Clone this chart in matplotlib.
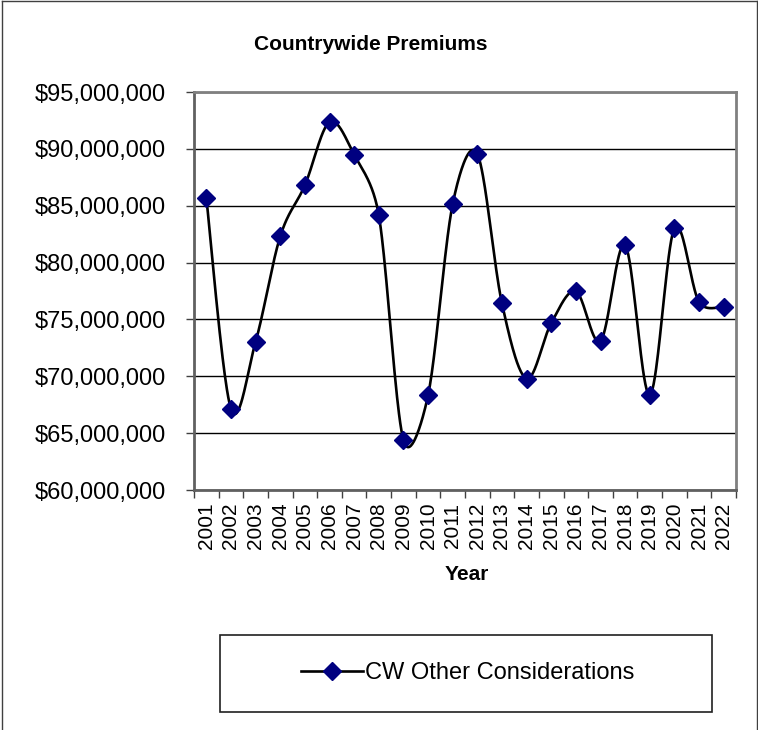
import numpy as np
import matplotlib
matplotlib.use('Agg')
import matplotlib.pyplot as plt
from matplotlib.ticker import FuncFormatter, FixedLocator
from matplotlib.patches import Rectangle
from matplotlib.lines import Line2D

plt.rcParams['font.family'] = ['Liberation Sans', 'DejaVu Sans']

years = ['2001', '2002', '2003', '2004', '2005', '2006', '2007', '2008', '2009', '2010', '2011',
         '2012', '2013', '2014', '2015', '2016', '2017', '2018', '2019', '2020', '2021', '2022']
premiums = [85.68, 67.15, 73.03, 82.30, 86.80, 92.35, 89.50, 84.18, 64.40, 68.32, 85.15,
            89.56, 76.41, 69.80, 74.68, 77.47, 73.09, 81.53, 68.35, 83.03, 76.53, 76.10]
premiums = [v * 1e6 for v in premiums]
series_name = 'CW Other Considerations'


def smooth_curve(x, y, sx=24.6, sy=11.37e-6, steps=40):
    # Excel-like smoothing (Catmull-Rom Bezier, control arm capped at half the segment)
    p = np.column_stack([np.asarray(x) * sx, np.asarray(y) * sy]).astype(float)
    ext = np.vstack([p[0], p, p[-1]])
    t = np.linspace(0, 1, steps)[:, None]
    out = []
    for i in range(len(p) - 1):
        p0, p3 = ext[i + 1], ext[i + 2]
        half = np.hypot(*(p3 - p0)) / 2
        a1 = (ext[i + 2] - ext[i]) / 6
        a2 = (ext[i + 3] - ext[i + 1]) / 6
        for a in (a1, a2):
            m = np.hypot(*a)
            if m > half:
                a *= half / m
        c1 = p0 + a1
        c2 = p3 - a2
        seg = ((1 - t) ** 3) * p0 + 3 * ((1 - t) ** 2) * t * c1 + 3 * (1 - t) * t ** 2 * c2 + t ** 3 * p3
        out.append(seg if i == 0 else seg[1:])
    out = np.vstack(out)
    return out[:, 0] / sx, out[:, 1] / sy


fig = plt.figure(figsize=(7.58, 7.30), dpi=100)
ax = fig.add_axes([194 / 758, 1 - 490 / 730, 542 / 758, 398 / 730])

xpos = np.arange(1, len(years) + 1)
cx, cy = smooth_curve(xpos, premiums)
ax.plot(cx, cy, color='black', lw=1.9, zorder=3)
ax.plot(xpos, premiums, ls='none', marker='D', ms=9, color='#000080', zorder=4)

ax.set_xlim(0.5, len(years) + 0.5)
ax.set_ylim(60e6, 95e6)
ax.set_yticks(np.arange(60e6, 95e6 + 1, 5e6))
ax.yaxis.set_major_formatter(FuncFormatter(lambda v, p: '${:,.0f}'.format(v)))
ax.set_xticks(xpos)
ax.set_xticklabels(years, rotation=90, fontsize=15)
ax.xaxis.set_minor_locator(FixedLocator(np.arange(0.5, len(years) + 1, 1)))
ax.tick_params(axis='x', which='major', length=0, pad=9)
ax.tick_params(axis='x', which='minor', length=6, width=1, color='#404040', direction='out')
ax.tick_params(axis='y', length=6, width=1, color='#404040', direction='out', labelsize=17, pad=14)

ax.grid(axis='y', color='black', lw=1)
ax.set_axisbelow(True)
for side in ['top', 'right']:
    ax.spines[side].set_color('#808080')
    ax.spines[side].set_linewidth(2)
for side in ['left', 'bottom']:
    ax.spines[side].set_color('#606060')
    ax.spines[side].set_linewidth(2)

fig.text(371 / 758, 1 - 44 / 730, 'Countrywide Premiums', ha='center', va='center',
         fontsize=15, fontweight='bold')
fig.text(467 / 758, 1 - 575 / 730, 'Year', ha='center', va='center',
         fontsize=15, fontweight='bold')

# legend box
fig.patches.append(Rectangle((220 / 758, 1 - 712 / 730), 492 / 758, 77 / 730,
                             transform=fig.transFigure, fill=False, ec='#202020', lw=1.2))
handle = Line2D([], [], color='black', lw=1.9, marker='D', ms=9, mfc='#000080', mec='#000080')
fig.legend([handle], [series_name], loc='center', bbox_to_anchor=(468 / 758, 1 - 673 / 730),
           frameon=False, fontsize=17, handlelength=2.6, handletextpad=0.1)

# outer border of chart
fig.add_artist(Line2D([2 / 758, 2 / 758], [0, 1 - 1 / 730], transform=fig.transFigure, color='#404040', lw=1))
fig.add_artist(Line2D([2 / 758, 757 / 758], [1 - 1 / 730, 1 - 1 / 730], transform=fig.transFigure, color='#404040', lw=1))
fig.add_artist(Line2D([757 / 758, 757 / 758], [0, 1 - 1 / 730], transform=fig.transFigure, color='#404040', lw=1))

fig.savefig('out.png', dpi=100)
